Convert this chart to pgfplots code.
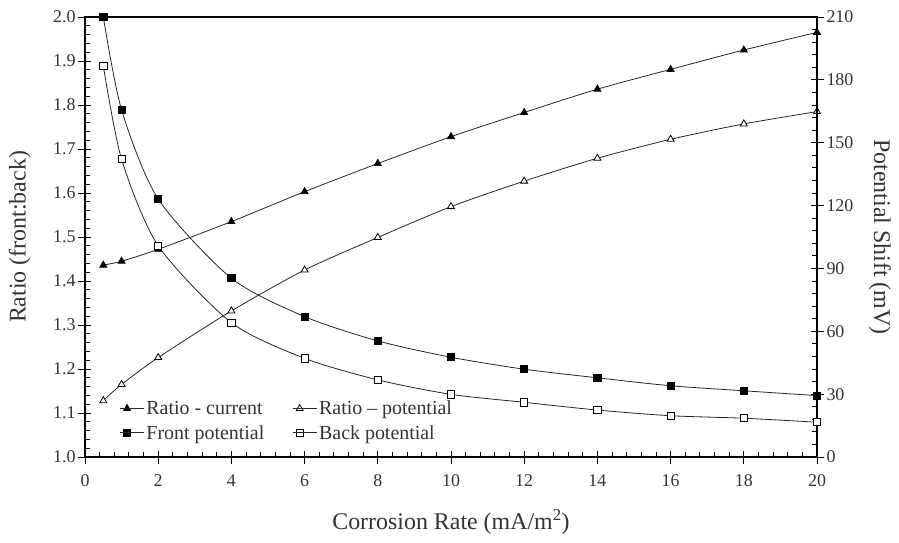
\documentclass[border=0pt]{standalone}
\usepackage{fontspec}
\setmainfont{Liberation Serif}
\usepackage{pgfplots}
\pgfplotsset{compat=1.18}
\definecolor{txt}{gray}{0.2}
\definecolor{ln}{gray}{0.15}

\pgfplotsset{
  common/.style={
    scale only axis, width=732bp, height=440bp,
    xmin=0, xmax=20,
    axis line style={line width=1.1bp, black},
    every tick/.style={line width=0.9bp, black},
    tick align=inside,
    major tick length=6bp, minor tick length=5bp,
    /pgf/number format/assume math mode=true,
    ticklabel style={font=\fontsize{18}{20}\selectfont, text=txt},
    label style={font=\fontsize{24}{28}\selectfont, text=txt},
    clip=false,
  },
  curve/.style={ln, line width=0.8bp, smooth, tension=0.45},
}

\begin{document}
\begin{tikzpicture}
\path[use as bounding box] (-85bp,-86bp) rectangle (814bp,457bp);
\begin{axis}[common,
  ymin=1, ymax=2,
  xtick={0,2,...,20}, minor x tick num=4,
  ytick={1,1.1,...,2.01}, minor y tick num=4,
  xtick pos=bottom, ytick pos=left,
  y tick label style={/pgf/number format/fixed, /pgf/number format/fixed zerofill, /pgf/number format/precision=1},
  extra x ticks={0,2,...,20}, extra x tick labels={},
  extra x tick style={tick align=outside, major tick length=7bp},
  extra y ticks={1,1.1,...,2.01}, extra y tick labels={},
  extra y tick style={tick align=outside, major tick length=7bp},
  xticklabel style={yshift=-14bp},
  yticklabel style={xshift=-6bp},
  xlabel={Corrosion Rate (mA/m\textsuperscript{2})},
  xlabel style={at={(axis description cs:0.5,-0.148)}, anchor=center},
  ylabel={Ratio (front:back)},
  ylabel style={at={(axis description cs:-0.089,0.5)}, anchor=center},
]
\addplot[curve, mark=triangle*, mark size=4bp, mark options={solid, fill=black, draw=black}]
coordinates {(0.5,1.436)(1,1.445)(2,1.472)(4,1.535)(6,1.603)(8,1.667)(10,1.728)(12,1.783)(14,1.836)(16,1.881)(18,1.925)(20,1.965)};
\addplot[curve, mark=triangle*, mark size=4bp, mark options={solid, fill=white, draw=black}]
coordinates {(0.5,1.128)(1,1.165)(2,1.226)(4,1.332)(6,1.425)(8,1.499)(10,1.569)(12,1.627)(14,1.679)(16,1.722)(18,1.757)(20,1.785)};
\end{axis}
\begin{axis}[common,
  ymin=0, ymax=210,
  axis x line=none, axis y line*=right,
  ytick={0,30,...,210}, minor y tick num=4,
  extra y ticks={0,30,...,210}, extra y tick labels={},
  extra y tick style={tick align=outside, major tick length=7bp},
  yticklabel style={xshift=6bp},
  ylabel={Potential Shift (mV)},
  ylabel style={at={(axis description cs:1.086,0.5)}, anchor=center, rotate=180},
  legend columns=2,
  legend cell align=left,
  legend style={draw=none, fill=none, at={(axis description cs:0.043,0.028)}, anchor=south west,
    font=\fontsize{20}{24}\selectfont, text=txt, row sep=5bp,
    /tikz/every even column/.append style={column sep=26bp}},
  legend image code/.code={\draw[mark repeat=2,mark phase=2] plot coordinates {(0bp,0bp)(7bp,0bp)(14bp,0bp)}; \path (0bp,0bp) -- (24bp,0bp);},
]
\addlegendimage{ln, line width=0.8bp, mark=triangle*, mark size=4bp, mark options={fill=black, draw=black}}
\addlegendentry{Ratio - current}
\addlegendimage{ln, line width=0.8bp, mark=triangle*, mark size=4bp, mark options={fill=white, draw=black}}
\addlegendentry{Ratio -- potential}
\addplot[curve, mark=square*, mark size=3.6bp, mark options={solid, fill=black, draw=black}]
coordinates {(0.5,210)(1,165.6)(2,123.1)(4,85.3)(6,67.0)(8,55.4)(10,47.6)(12,41.9)(14,37.8)(16,34.0)(18,31.6)(20,29.3)};
\addlegendentry{Front potential}
\addplot[curve, mark=square*, mark size=3.6bp, mark options={solid, fill=white, draw=black}]
coordinates {(0.5,186.7)(1,142.1)(2,100.8)(4,64.1)(6,47.1)(8,36.8)(10,29.9)(12,26.1)(14,22.4)(16,19.7)(18,18.5)(20,16.6)};
\addlegendentry{Back potential}
\end{axis}
\end{tikzpicture}
\end{document}
